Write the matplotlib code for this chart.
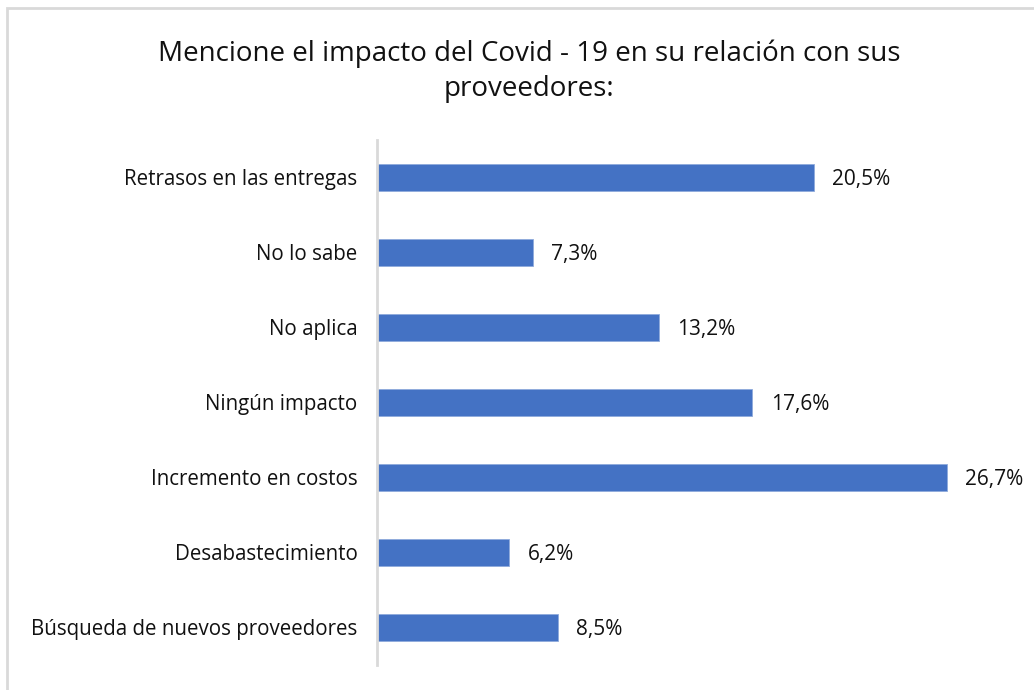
import matplotlib.pyplot as plt
from matplotlib.patches import Rectangle

categorias = ['Retrasos en las entregas', 'No lo sabe', 'No aplica', 'Ningún impacto',
              'Incremento en costos', 'Desabastecimiento', 'Búsqueda de nuevos proveedores']
porcentajes = [20.5, 7.3, 13.2, 17.6, 26.7, 6.2, 8.5]
etiquetas = ['20,5%', '7,3%', '13,2%', '17,6%', '26,7%', '6,2%', '8,5%']

plt.rcParams['font.family'] = ['Open Sans', 'DejaVu Sans']

W, H = 1034, 690
fig = plt.figure(figsize=(W / 100, H / 100), dpi=100)

# marco gris claro del grafico
fig.patches.append(Rectangle((7 / W, -0.1), 1.2, 1 - 8 / H + 0.1, transform=fig.transFigure,
                             fill=False, edgecolor='#d9d9d9', linewidth=2))

ax = fig.add_axes([377 / W, 1 - 665 / H, 640 / W, 525 / H])
pos = list(range(len(categorias)))
ax.barh(pos, porcentajes, height=0.35, color='#4472C4', edgecolor='#8FAADC', linewidth=0.6)
ax.set_ylim(len(categorias) - 0.5, -0.5)
ax.set_xlim(0, 30)
ax.set_yticks(pos)
ax.set_yticklabels(categorias, fontsize=14.8, color='#111111')
ax.tick_params(axis='y', length=0, pad=14)
ax.set_xticks([])
for s in ['top', 'right', 'bottom']:
    ax.spines[s].set_visible(False)
ax.spines['left'].set_color('#d9d9d9')
ax.spines['left'].set_linewidth(2)

for y, v, t in zip(pos, porcentajes, etiquetas):
    ax.text(v + 0.85, y + 0.03, t, va='center', ha='left', fontsize=15, color='#111111')

fig.text(529 / W, 1 - 71 / H, 'Mencione el impacto del Covid - 19 en su relación con sus\nproveedores:',
         ha='center', va='center', fontsize=20, color='#111111', linespacing=1.33)

fig.savefig('out.png', dpi=100, facecolor='white')
